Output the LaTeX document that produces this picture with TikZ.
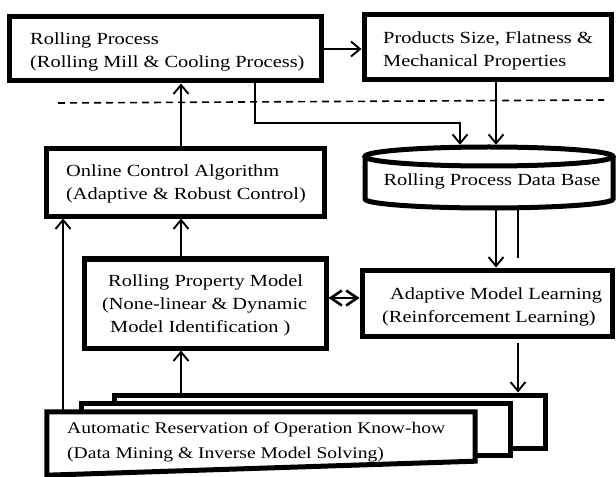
\documentclass[tikz,border=0pt]{standalone}
\usepackage{fontspec}
\setmainfont{Liberation Serif}[FakeStretch=1.2]
\usetikzlibrary{arrows.meta,calc}

\begin{document}
\begin{tikzpicture}[x=1bp,y=-1bp,
  box/.style={draw, line width=5bp, fill=white, inner sep=0pt, anchor=center},
  txt/.style={font=\fontsize{17bp}{23bp}\selectfont, inner sep=0pt, align=left},
  conn/.style={line width=1.8bp},
  arr/.style={conn, -{Straight Barb[length=9bp,width=15bp,line width=1.9bp]}},
  dblarr/.style={line width=2.6bp, {Straight Barb[length=11bp,width=15bp,line width=2.6bp]}-{Straight Barb[length=11bp,width=15bp,line width=2.6bp]}},
  sepline/.style={line width=1.6bp, dash pattern=on 7bp off 5bp},
]
\useasboundingbox (0,0) rectangle (616,477);

% column positions for the vertical connectors
\coordinate (cL) at (63,0);
\coordinate (cA) at (181,0);
\coordinate (cP) at (255,0);
\coordinate (cQ) at (460,0);
\coordinate (cM) at (496,0);
\coordinate (cR) at (518,0);
\coordinate (turn) at (460,123);
\coordinate (mid) at (0,298);
\coordinate (gapTop) at (518,258);
\coordinate (gapBot) at (518,343);
\coordinate (dl) at (58,103);
\coordinate (dr) at (604,100);

% boxes
\node[box, minimum width=311bp, minimum height=64bp] (rp) at (165.5,49) {};
\node[box, minimum width=247bp, minimum height=65bp] (prod) at (487.5,47.5) {};
\node[box, minimum width=277bp, minimum height=67bp] (oc) at (185.5,182.5) {};
\node[box, minimum width=242bp, minimum height=89bp] (rpm) at (205,303.5) {};
\node[box, minimum width=250bp, minimum height=66bp] (aml) at (487,303) {};

% data base cylinder
\node[minimum width=251bp, minimum height=65bp, inner sep=0pt] (db) at (489,177.5) {};
\fill[white] (365,156.5) -- (365,199) arc[start angle=180, end angle=360, x radius=124, y radius=-9]
  -- (613,156.5) -- cycle;
\draw[line width=5bp] (365,156.5) -- (365,199) arc[start angle=180, end angle=360, x radius=124, y radius=-9]
  -- (613,156.5);
\draw[line width=5bp, fill=white] (489,156.5) ellipse[x radius=124, y radius=9.5];

% stacked pages
\node[box, minimum width=430bp, minimum height=53bp] (back) at (330,421.5) {};
\node[box, minimum width=428bp, minimum height=52bp] (middle) at (296,429) {};
\node[minimum width=428bp, minimum height=63bp, inner sep=0pt] (front) at (261,443.5) {};
\draw[line width=5bp, fill=white] (front.north west) -- (front.north east)
  -- ($(front.south east)+(0,-14)$) -- (front.south west) -- cycle;

% texts (anchored on the baseline of their last line)
\node[txt, anchor=base west] (rpT) at (30,68) {Rolling Process\\(Rolling Mill \& Cooling Process)};
\node[txt, anchor=base west] (prodT) at (383,67) {Products Size, Flatness \&\\Mechanical Properties};
\node[txt, anchor=base west] (ocT) at (66,200) {Online Control Algorithm\\(Adaptive \& Robust Control)};
\node[txt, anchor=base] (dbT) at (492,186) {Rolling Process Data Base};
\node[txt, anchor=base west] (rpmT) at (102,332) {\hspace*{6bp}Rolling Property Model\\(None-linear \& Dynamic\\\hspace*{8bp}Model Identification )};
\node[txt, anchor=base west] (amlT) at (382,322) {\hspace*{8bp}Adaptive Model Learning\\(Reinforcement Learning)};
\node[txt, font=\fontsize{16.3bp}{25bp}\selectfont, anchor=base west] (autoT) at (67,458) {Automatic Reservation of Operation Know-how\\(Data Mining \& Inverse Model Solving)};

% separator
\draw[sepline] (dl) -- (dr);

% connectors
\draw[arr] (rp.east) -- (rp.east -| prod.west);
\draw[arr] (oc.north -| cA) -- (rp.south -| cA);
\draw[arr] (rp.south -| cP) |- (turn) -- (db.north -| cQ);
\draw[arr] (prod.south -| cM) -- (db.north -| cM);
\draw[arr] (db.south -| cM) -- (aml.north -| cM);
\draw[conn] (db.south -| cR) -- (gapTop);
\draw[arr] (gapBot) -- (back.north -| cR);
\draw[arr] (rpm.north -| cA) -- (oc.south -| cA);
\draw[arr] (back.north -| cA) -- (rpm.south -| cA);
\draw[arr] (front.north -| cL) -- (oc.south -| cL);
\draw[dblarr] (rpm.east |- mid) -- (aml.west |- mid);
\end{tikzpicture}
\end{document}
